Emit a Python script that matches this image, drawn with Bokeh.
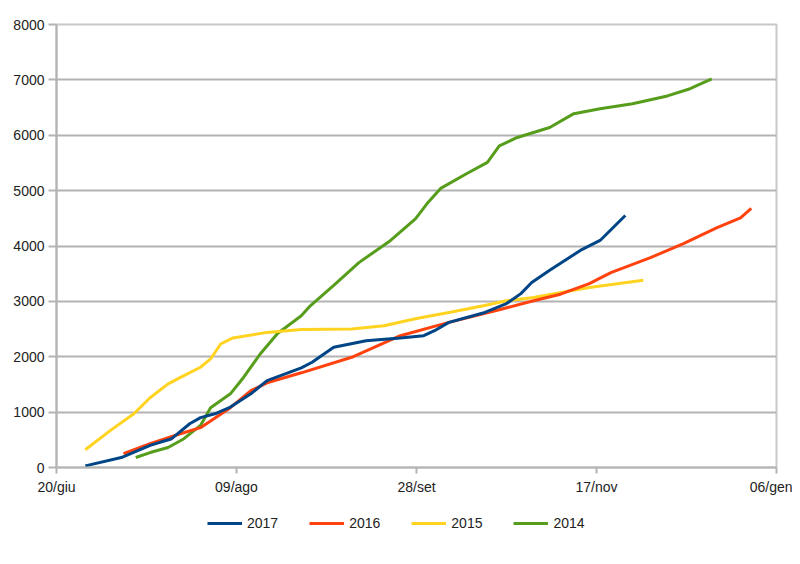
from bokeh.plotting import figure
from bokeh.layouts import column
from bokeh.models import FixedTicker, Legend, LegendItem, Range1d
from bokeh.embed import file_html
from bokeh.resources import INLINE

# x = days since 20 June
tick_days = [0, 50, 100, 150, 200]
tick_labels = ["20/giu", "09/ago", "28/set", "17/nov", "06/gen"]

x2017 = [8, 18, 26, 32, 37, 40, 44, 48, 54, 58.5, 68, 71, 77, 86, 95.5, 102, 105, 109, 119, 125, 129, 132, 137, 145.5, 151, 158]
y2017 = [30, 180, 400, 520, 790, 900, 970, 1080, 1330, 1570, 1800, 1900, 2170, 2290, 2340, 2380, 2470, 2620, 2800, 2960, 3140, 3340, 3560, 3920, 4100, 4550]

x2016 = [18.6, 26, 34.4, 40, 48.3, 54, 58.5, 68, 82, 95.5, 109, 123, 132.5, 140, 148, 154, 165, 174, 183.5, 190, 193]
y2016 = [250, 430, 610, 720, 1080, 1390, 1530, 1710, 1990, 2380, 2620, 2850, 3010, 3130, 3320, 3520, 3790, 4040, 4330, 4510, 4680]

x2015 = [8, 15, 21.5, 26, 31, 35.4, 40, 42.8, 45.6, 49, 58.5, 68, 82, 91, 100, 109, 118.6, 125, 132.5, 148, 163]
y2015 = [320, 670, 970, 1260, 1510, 1660, 1810, 1960, 2230, 2340, 2440, 2490, 2500, 2560, 2690, 2800, 2920, 3010, 3070, 3250, 3380]

x2014 = [22, 26, 31, 35.4, 40, 42.8, 48.3, 52, 56.7, 61.4, 68, 70.5, 77, 84, 92.8, 99.7, 103, 106.7, 114, 119.7, 123, 128, 137, 143.7, 151, 160, 169.7, 176, 182]
y2014 = [180, 270, 360, 520, 760, 1080, 1330, 1630, 2060, 2420, 2740, 2920, 3290, 3700, 4100, 4490, 4770, 5040, 5310, 5510, 5810, 5960, 6140, 6390, 6480, 6570, 6710, 6840, 7020]

series = [
    ("2017", x2017, y2017, "#004586"),
    ("2016", x2016, y2016, "#ff420e"),
    ("2015", x2015, y2015, "#ffd320"),
    ("2014", x2014, y2014, "#579d1c"),
]

FONT = "Liberation Sans"

p = figure(frame_width=720, frame_height=443, output_backend="svg", toolbar_location=None,
           x_range=Range1d(0, 200), y_range=Range1d(0, 8000),
           min_border_left=56, min_border_top=24, min_border_right=16, min_border_bottom=40)

for name, xs, ys, col in reversed(series):
    p.line(xs, ys, line_color=col, line_width=3)

p.xaxis.ticker = FixedTicker(ticks=tick_days)
p.xaxis.major_label_overrides = {d: l for d, l in zip(tick_days, tick_labels)}
p.yaxis.ticker = FixedTicker(ticks=list(range(0, 8001, 1000)))
p.xaxis.minor_tick_line_color = None
p.yaxis.minor_tick_line_color = None
for ax in (p.xaxis, p.yaxis):
    ax.axis_line_color = "#b3b3b3"
    ax.axis_line_width = 2
    ax.major_tick_line_color = "#b3b3b3"
    ax.major_tick_line_width = 2
    ax.major_tick_in = 0
    ax.major_label_text_font = FONT
    ax.major_label_text_font_size = "14px"
    ax.major_label_text_color = "#222222"
p.yaxis.major_tick_out = 8
p.xaxis.major_tick_out = 6
p.xaxis.major_label_standoff = 5
p.yaxis.major_label_standoff = 4

p.xgrid.grid_line_color = None
p.ygrid.grid_line_color = "#b3b3b3"
p.ygrid.grid_line_width = 2
p.outline_line_color = "#c8c8c8"
p.outline_line_width = 2

# legend strip below the chart (its own lines sit outside its visible ranges)
pl = figure(width=792, height=40, output_backend="svg", toolbar_location=None,
            x_range=Range1d(-1000, -999), y_range=Range1d(-1000, -999),
            min_border_left=0, min_border_right=0, min_border_top=0, min_border_bottom=0)
pl.axis.visible = False
pl.grid.grid_line_color = None
pl.outline_line_color = None
items = []
for name, xs, ys, col in series:
    r = pl.line(xs, ys, line_color=col, line_width=3)
    items.append(LegendItem(label=name, renderers=[r]))

legend = Legend(items=items, orientation="horizontal", location=(147, 10),
                glyph_width=35, label_standoff=5, spacing=31,
                label_text_font=FONT, label_text_font_size="14px", label_text_color="#222222",
                border_line_alpha=0, background_fill_alpha=0, padding=4, margin=0)
pl.add_layout(legend, "center")

layout = column(p, pl, spacing=0)
open("out.html", "w").write(file_html(layout, INLINE))
